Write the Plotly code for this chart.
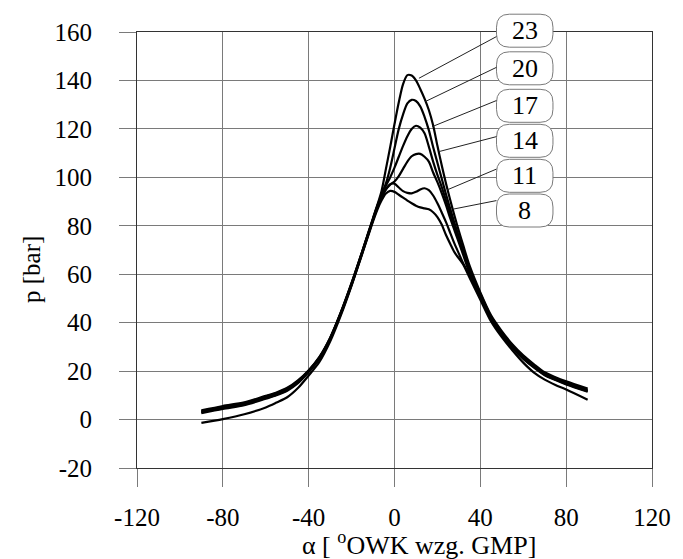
import plotly.graph_objects as go

# ---------------- data ----------------
alpha = [-90, -80, -70, -60, -55, -50, -45, -40, -35, -30, -25, -20, -15, -10, -8, -6, -4, -2,
         0, 2, 4, 6, 8, 10, 12, 14, 16, 18, 20, 22, 24, 26, 28, 30, 32, 35, 40, 45,
         50, 55, 60, 65, 70, 75, 80, 90]

p23 = [3.8, 5.6, 7.1, 9.8, 11.2, 13.1, 16.2, 20.4, 25.9, 33.8, 44.3, 56.4, 69.6, 83.2, 88.6, 94.5,
       103.5, 112.5, 122, 131, 138.5, 142.2, 142, 140, 136.5, 132.5, 127.8, 121.5, 113,
       105, 97.5, 90.5, 84, 77.8, 72, 63.5, 52.5, 43, 36.5, 31, 26.5, 22.8, 19.5, 17.5, 15.8, 12.8]
p20 = [3.5, 5.3, 6.8, 9.5, 10.9, 12.8, 15.9, 20.2, 25.7, 33.6, 44.2, 56.3, 69.4, 83, 88.2, 93,
       97.5, 104, 112, 120, 126, 130.5, 132, 131.5, 129.3, 125, 119.5, 112.5, 106,
       99.5, 93, 87, 81, 75.5, 70, 62, 52, 42.5, 36, 30.5, 26, 22.3, 19, 17.0, 15.3, 12.3]
p17 = [3.2, 5.0, 6.5, 9.2, 10.6, 12.5, 15.6, 20, 25.5, 33.5, 44, 56, 69.2, 82.8, 88, 92.5,
       96.5, 100, 104, 108.5, 113, 117, 120, 121.3, 120.5, 118.2, 112.7, 106.5, 101,
       96, 90.5, 85, 79.5, 74, 69, 61, 51.3, 42, 35.7, 30.2, 25.7, 22.0, 18.8, 16.8, 15, 12]
p14 = [2.9, 4.7, 6.2, 8.9, 10.3, 12.2, 15.3, 19.8, 25.3, 33.3, 43.8, 55.8, 69, 82.5, 87.5, 92,
       95, 97, 98.3, 100.5, 103.5, 106.5, 108.7, 109.6, 109.7, 108.5, 106.5, 102, 98,
       93.5, 88.5, 83, 78, 73, 68, 60.5, 50.7, 41.5, 35.3, 29.8, 25.3, 21.7, 18.5, 16.5, 14.7, 11.7]
p11 = [2.6, 4.4, 5.9, 8.6, 10.0, 11.9, 15.0, 19.6, 25.1, 33.1, 43.6, 55.6, 68.8, 82.3, 87.3, 91.5,
       95, 97.2, 97.4, 95.8, 94.3, 93.6, 93.4, 94, 95, 95.5, 94.7, 92.5, 89.3,
       85.5, 81.5, 77, 72.5, 68.5, 64.5, 59.5, 50.3, 41.3, 35, 29.5, 25, 21.4, 18.3, 16.3, 14.5, 11.5]
p8 = [-1.4, 0.2, 2.2, 5.0, 7.0, 9.2, 13.0, 18.2, 23.8, 32.2, 43, 55.3, 68.5, 81.8, 86.6, 90.5,
      93.3, 94.4, 94, 92.8, 91.6, 90.4, 89.3, 88.3, 87.6, 87.2, 86.8, 85.6, 83.6,
      80.5, 76.2, 72.5, 69, 66.5, 64, 58.5, 49.5, 40.5, 34, 28.5, 23.5, 19.4, 16.5, 14.3, 12.4, 8.2]

series_names = ["23", "20", "17", "14", "11", "8"]
series_values = [p23, p20, p17, p14, p11, p8]

# leader-line anchor points on the curves (alpha, p) and label-side start points
leader_end_alpha = [11.4, 14.4, 17.5, 20.6, 24.5, 27.5]
leader_end_p = [140.9, 131.3, 120.9, 110.6, 94.8, 86.9]
leader_start_alpha = [47.5, 47.5, 47.5, 47.5, 47.5, 47.5]
leader_start_p = [158.1, 145.4, 131.7, 116.8, 103.4, 90.4]

x_ticks = [-120, -80, -40, 0, 40, 80, 120]
y_ticks = [-20, 0, 20, 40, 60, 80, 100, 120, 140, 160]

# ---------------- figure ----------------
fig = go.Figure()
for name, vals in zip(series_names, series_values):
    fig.add_trace(go.Scatter(x=alpha, y=vals, mode="lines", name=name,
                             line=dict(color="black", width=2.2, shape="spline", smoothing=0.8)))

FONT = "Liberation Serif"
L, R, T, B = 137, 26, 32, 91
W, H = 683, 559
PW, PH = W - L - R, H - T - B


def px2paper(px, py):
    return (px - L) / PW, (H - B - py) / PH


shapes = []
annotations = []
# label boxes (rounded rectangles) with text
box_centers_py = [30.7, 68.3, 105.8, 140.8, 175.8, 210.5]
bx0, bx1 = 500, 557
half_h = 16.5
rad = 13
for name, cy in zip(series_names, box_centers_py):
    x0, y1 = px2paper(bx0, cy - half_h)
    x1, y0 = px2paper(bx1, cy + half_h)
    rx, ry = rad / PW, rad / PH
    path = (f"M {x0+rx},{y1} L {x1-rx},{y1} Q {x1},{y1} {x1},{y1-ry} "
            f"L {x1},{y0+ry} Q {x1},{y0} {x1-rx},{y0} L {x0+rx},{y0} "
            f"Q {x0},{y0} {x0},{y0+ry} L {x0},{y1-ry} Q {x0},{y1} {x0+rx},{y1} Z")
    shapes.append(dict(type="path", path=path, xref="paper", yref="paper",
                       line=dict(color="#7a7a7a", width=1), fillcolor="white", layer="above"))
    cxp, cyp = px2paper((bx0 + bx1) / 2, cy)
    annotations.append(dict(x=cxp, y=cyp, xref="paper", yref="paper", text=name,
                            showarrow=False, font=dict(family=FONT, size=26, color="black"),
                            xanchor="center", yanchor="middle"))

for xs, ys, xe, ye in zip(leader_start_alpha, leader_start_p, leader_end_alpha, leader_end_p):
    shapes.append(dict(type="line", xref="x", yref="y", x0=xs, y0=ys, x1=xe, y1=ye,
                       line=dict(color="#222", width=1), layer="above"))

# axis titles
xtx, xty = px2paper(422, 543)
annotations.append(dict(x=xtx, y=xty, xref="paper", yref="paper",
                        text="α [ <sup>o</sup>OWK wzg. GMP]", showarrow=False,
                        font=dict(family=FONT, size=26, color="black"),
                        xanchor="center", yanchor="middle"))
ytx, yty = px2paper(30, 270)
annotations.append(dict(x=ytx, y=yty, xref="paper", yref="paper",
                        text="p [bar]", showarrow=False, textangle=-90,
                        font=dict(family=FONT, size=25, color="black"),
                        xanchor="center", yanchor="middle"))

fig.update_layout(
    width=W, height=H,
    margin=dict(l=L, r=R, t=T, b=B, pad=0),
    plot_bgcolor="white", paper_bgcolor="white",
    showlegend=False,
    font=dict(family=FONT, size=25, color="black"),
    shapes=shapes, annotations=annotations,
)
fig.update_xaxes(range=[-120, 120], tickvals=x_ticks, ticktext=[str(v) for v in x_ticks],
                 showgrid=True, gridcolor="#7a7a7a", gridwidth=1, zeroline=False,
                 showline=True, linecolor="#333", linewidth=1, mirror=True,
                 ticks="outside", ticklen=18, tickcolor="#7a7a7a", tickwidth=1,
                 ticklabelstandoff=9)
fig.update_yaxes(range=[-20, 160], tickvals=y_ticks, ticktext=[str(v) for v in y_ticks],
                 showgrid=True, gridcolor="#7a7a7a", gridwidth=1, zeroline=False,
                 showline=True, linecolor="#333", linewidth=1, mirror=True,
                 ticks="outside", ticklen=17, tickcolor="#7a7a7a", tickwidth=1,
                 ticklabelstandoff=22)

fig.write_html("out.html")
